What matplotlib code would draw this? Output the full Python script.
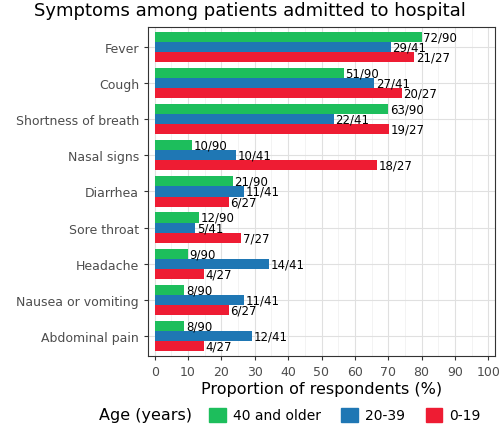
import matplotlib
matplotlib.use("Agg")
import matplotlib.pyplot as plt
import numpy as np
from matplotlib.offsetbox import HPacker

categories = ["Fever", "Cough", "Shortness of breath", "Nasal signs", "Diarrhea",
              "Sore throat", "Headache", "Nausea or vomiting", "Abdominal pain"]
groups = ["40 and older", "20-39", "0-19"]
totals = [90, 41, 27]
counts = {
    "40 and older": [72, 51, 63, 10, 21, 12, 9, 8, 8],
    "20-39": [29, 27, 22, 10, 11, 5, 14, 11, 12],
    "0-19": [21, 20, 19, 18, 6, 7, 4, 6, 4],
}
colors = {"40 and older": "#1DBE5C", "20-39": "#1F77B4", "0-19": "#EE1C33"}

fig = plt.figure(figsize=(5, 4.31), dpi=100)
ax = fig.add_axes([0.296, 0.172, 0.694, 0.763])
n = len(categories)
y = np.arange(n)[::-1].astype(float)
h = 0.28
for i, g in enumerate(groups):
    vals = np.array(counts[g]) / totals[i] * 100
    yy = y + h * (1 - i)
    ax.barh(yy, vals, height=h, color=colors[g], zorder=3)
    for v, c, yv in zip(vals, counts[g], yy):
        ax.text(v + 0.5, yv, f"{c}/{totals[i]}", va="center", ha="left", fontsize=8.5, zorder=4)

ax.set_xlim(-2, 102)
ax.set_ylim(-0.55, n - 0.45)
ax.set_xticks(range(0, 101, 10))
ax.set_xticks(range(5, 100, 10), minor=True)
ax.set_yticks(y)
ax.set_yticklabels(categories, fontsize=9, color="#4d4d4d")
ax.tick_params(axis="x", labelsize=9, labelcolor="#4d4d4d", length=3, color="#333333")
ax.tick_params(axis="x", which="minor", length=0)
ax.tick_params(axis="y", length=3, color="#333333")
ax.grid(True, which="major", color="#e0e0e0", lw=0.8, zorder=0)
ax.grid(True, which="minor", axis="x", color="#efefef", lw=0.5, zorder=0)
for s in ax.spines.values():
    s.set_color("#333333")
    s.set_linewidth(0.8)
ax.set_xlabel("Proportion of respondents (%)", fontsize=11.5, labelpad=2)
fig.text(0.5, 0.975, "Symptoms among patients admitted to hospital", ha="center", va="center", fontsize=13)

handles = [plt.Rectangle((0, 0), 1, 1, color=colors[g]) for g in groups]
leg = fig.legend(handles, groups, loc="center", bbox_to_anchor=(0.58, 0.035), ncol=3, frameon=False,
                 fontsize=10, title="Age (years)", title_fontsize=11.5, handlelength=1.2, handleheight=1.2,
                 columnspacing=1.5, handletextpad=0.5)
lb = leg._legend_box
lb._children = [HPacker(children=[lb._children[0], lb._children[1]], pad=0, sep=12, align="center")]
fig.savefig("out.png", dpi=100)
